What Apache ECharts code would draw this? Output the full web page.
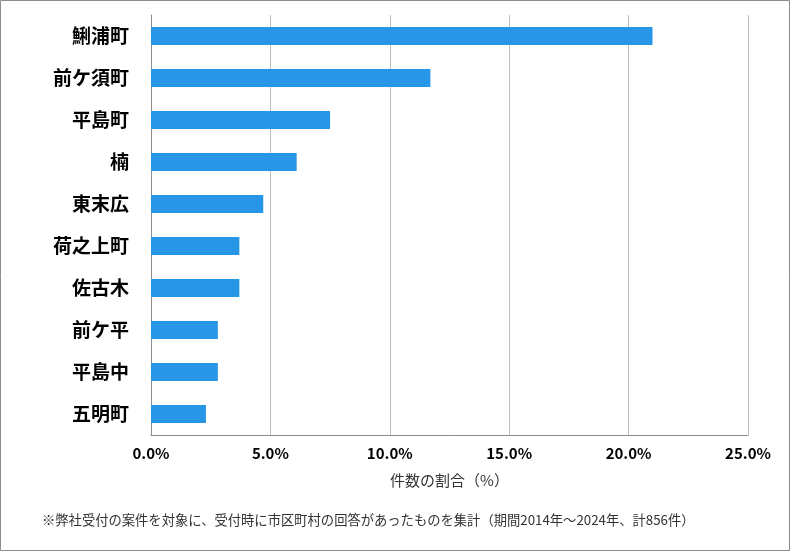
<!DOCTYPE html>
<html><head><meta charset="utf-8">
<script src="https://cdn.jsdelivr.net/npm/echarts@6/dist/echarts.min.js"></script>
<style>html,body{margin:0;padding:0;background:#fff}#c{width:790px;height:551px}</style>
</head><body><div id="c"></div>
<script>
const categories = ['鯏浦町','前ケ須町','平島町','楠','東末広','荷之上町','佐古木','前ケ平','平島中','五明町'];
const values = [21.0, 11.7, 7.5, 6.1, 4.7, 3.7, 3.7, 2.8, 2.8, 2.3];
const xTicks = [0, 5, 10, 15, 20, 25];
const axisTitle = '件数の割合（%）';
const footnote = '※弊社受付の案件を対象に、受付時に市区町村の回答があったものを集計（期間2014年～2024年、計856件）';
const FONT = '"Noto Sans CJK JP","Noto Sans",sans-serif';
const chart = echarts.init(document.getElementById('c'), null, {renderer:'canvas'});
chart.setOption({
  animation:false,
  backgroundColor:'#fff',
  grid:{left:151, right:42, top:15, bottom:116, containLabel:false},
  xAxis:{type:'value', min:xTicks[0], max:xTicks[xTicks.length-1], interval:5,
    axisLine:{show:true, lineStyle:{color:'#8c8c8c', width:1}},
    axisTick:{show:false},
    splitLine:{show:true, lineStyle:{color:'#bfbfbf', width:1}},
    axisLabel:{margin:11, color:'#000', fontWeight:'bold', fontSize:15, fontFamily:FONT,
      formatter:v=>v.toFixed(1)+'%'},
    name:axisTitle, nameLocation:'middle', nameGap:38,
    nameTextStyle:{color:'#333', fontSize:15, fontFamily:FONT}
  },
  yAxis:{type:'category', data:categories, inverse:true,
    axisLine:{show:true, lineStyle:{color:'#8c8c8c', width:1}},
    axisTick:{show:false},
    axisLabel:{margin:22, color:'#000', fontWeight:'bold', fontSize:19, fontFamily:FONT}
  },
  series:[{type:'bar', data:values, barWidth:18, itemStyle:{color:'#2896E6'}, silent:true}],
  graphic:[
    {type:'rect', shape:{x:0.5,y:0.5,width:789,height:550}, style:{fill:null, stroke:'#8c8c8c', lineWidth:1}, silent:true},
    {type:'text', left:42, top:513, style:{text:footnote, fill:'#333', fontSize:13.3, fontFamily:FONT}}
  ]
});
</script></body></html>
